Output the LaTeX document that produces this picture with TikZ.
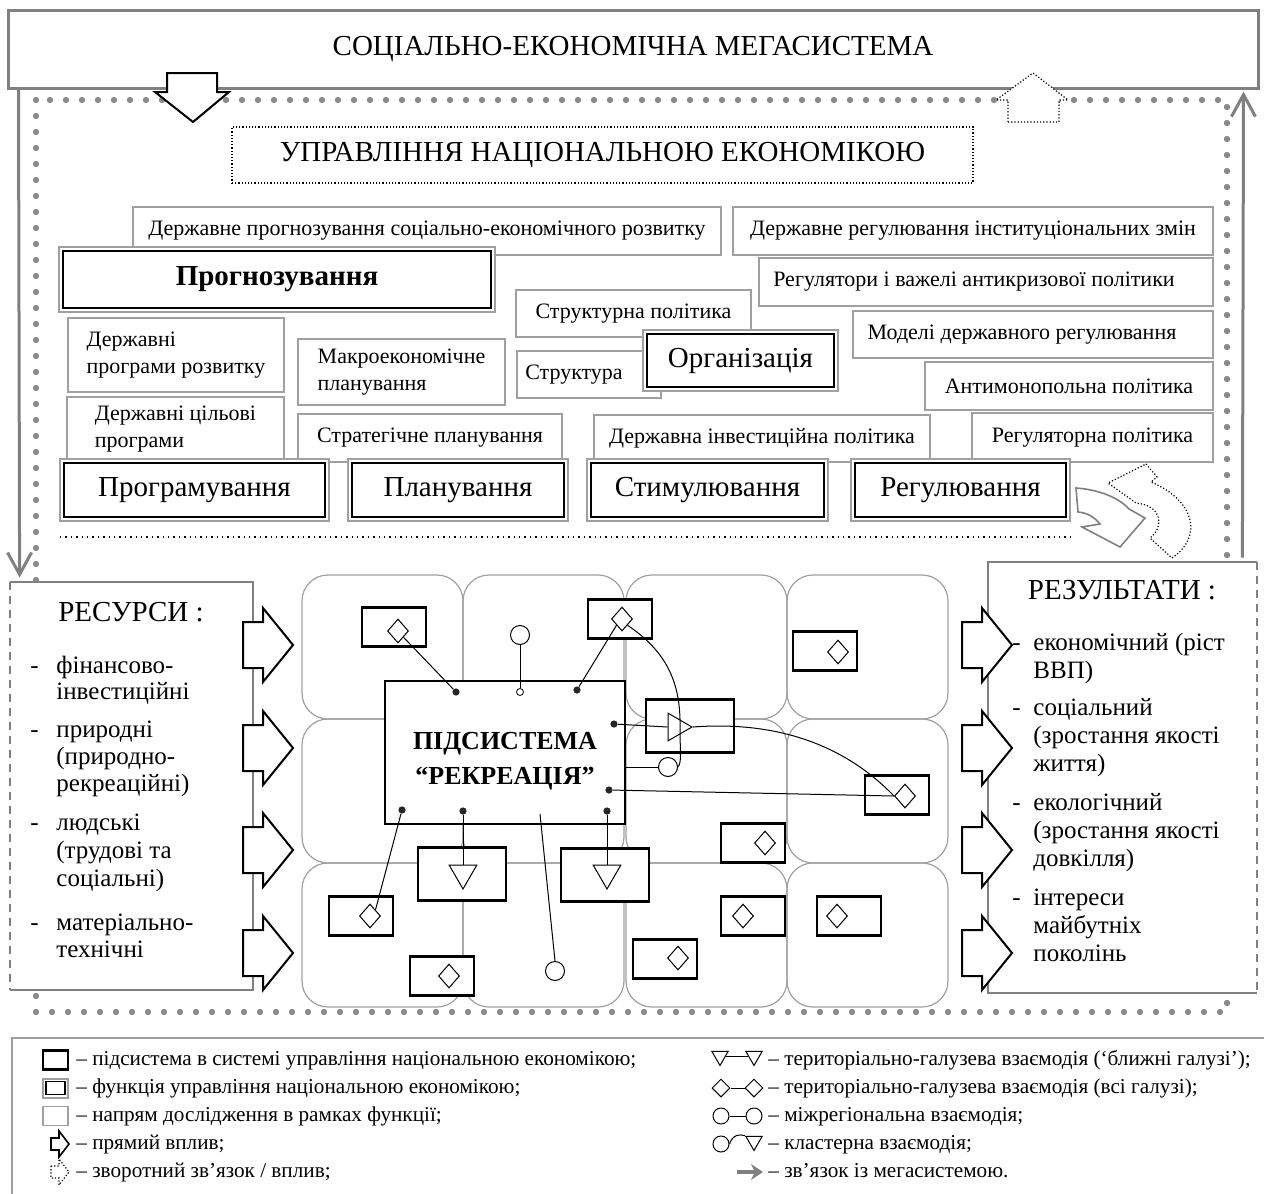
\documentclass[tikz,border=0pt]{standalone}
\usepackage{fontspec}
\setmainfont{Liberation Serif}
\usetikzlibrary{shapes.geometric,arrows.meta,calc}
\definecolor{lgray}{HTML}{A0A0A0}
\definecolor{mgray}{HTML}{8A8A8A}
\definecolor{dgray}{HTML}{808080}
\newcommand{\myftitle}{\fontsize{14.5}{17}\selectfont}
\newcommand{\myffun}{\fontsize{14.5}{17}\selectfont}
\newcommand{\myfdir}{\fontsize{11}{13.5}\selectfont}
\newcommand{\myfitem}{\fontsize{12.5}{14}\selectfont}
\newcommand{\myfleg}{\fontsize{10.6}{12}\selectfont}
\newcommand{\bx}[7]{%
  \pgfmathsetmacro{\bxcx}{(#2+#4)/2}%
  \pgfmathsetmacro{\bxcy}{(#3+#5)/2}%
  \pgfmathsetmacro{\bxw}{(#4-#2)/2}%
  \pgfmathsetmacro{\bxh}{(#5-#3)/2}%
  \node[#6, minimum width=\bxw pt, minimum height=\bxh pt] (#1) at (\bxcx,\bxcy) {#7};}
\newcommand{\rarr}[3]{%
  \draw[#3] (#1,#2-23) -- (#1+20,#2-23) -- (#1+20,#2-37) -- (#1+50,#2) -- (#1+20,#2+37) -- (#1+20,#2+23) -- (#1,#2+23) -- cycle;}
\begin{document}
\begin{tikzpicture}[x=0.5pt,y=-0.5pt,
 dir/.style={draw=lgray, line width=0.7pt, fill=white, inner sep=0pt, outer sep=0pt, font=\myfdir, align=left},
 func/.style={draw=lgray, line width=0.8pt, fill=white, inner sep=0pt, outer sep=0pt, font=\myffun},
 sub/.style={draw=black, line width=1.1pt, fill=white, inner sep=0pt, outer sep=0pt},
 sbox/.style={sub, minimum width=32pt, minimum height=19.5pt},
 tbox/.style={sub, minimum width=44pt, minimum height=26.5pt},
 dia/.style={diamond, draw, line width=0.5pt, minimum width=10.5pt, minimum height=12pt, inner sep=0pt},
 tri/.style={regular polygon, regular polygon sides=3, draw, line width=0.5pt, minimum size=16pt, inner sep=0pt},
 circ/.style={circle, draw, line width=0.5pt, minimum size=9.5pt, inner sep=0pt, fill=white},
 dotn/.style={circle, fill=black!85, minimum size=3.6pt, inner sep=0pt},
 odot/.style={circle, draw, line width=0.4pt, fill=white, minimum size=3.5pt, inner sep=0pt},
 conn/.style={line width=0.5pt},
 graydots/.style={draw=mgray, line width=3.2pt, line cap=round, dash pattern=on 0pt off 8pt},
 megalink/.style={draw=dgray, line width=1.5pt, -{Straight Barb[length=11pt,width=12pt]}},
 boxline/.style={draw=dgray, line width=1pt},
 blk/.style={draw=black, line width=1pt, fill=white},
 blkdot/.style={draw=black, line width=0.6pt, fill=white, densely dotted},
 cell/.style={draw=lgray, line width=0.6pt, rounded corners=13pt},
 ln/.style={anchor=west, inner sep=0pt, font=\myfitem, text height=8.5pt, text depth=2.6pt},
 lg/.style={anchor=west, inner sep=0pt, font=\myfleg, text height=7.2pt, text depth=2.2pt},
]
\useasboundingbox[fill=white] (0,0) rectangle (1264,1194);

% dotted gray frame
\draw[graydots] (36,100) rectangle (1227,1012);

% megasystem
\bx{mega}{8}{10}{1258}{88}{draw=dgray, line width=1.5pt, fill=white, inner sep=0pt, font=\myftitle}{СОЦІАЛЬНО-ЕКОНОМІЧНА МЕГАСИСТЕМА}

% direct influence down / feedback up
\draw[blk] (167,73) -- (217,73) -- (217,92) -- (229,92) -- (193,122) -- (155,92) -- (167,92) -- cycle;
\draw[blkdot] (1008,122) -- (1059,122) -- (1059,100) -- (1068,100) -- (1033,73) -- (996,100) -- (1008,100) -- cycle;

% management title
\bx{mgmt}{232}{127}{973}{183}{draw, densely dotted, line width=0.6pt, fill=white, inner sep=0pt, font=\myftitle}{УПРАВЛІННЯ НАЦІОНАЛЬНОЮ ЕКОНОМІКОЮ}

% research directions
\bx{A1}{133}{207}{721}{255}{dir}{Державне прогнозування соціально-економічного розвитку}
\bx{A2}{733}{207}{1213}{255}{dir}{Державне регулювання інституціональних змін}
\bx{A3}{759}{258}{1213}{306}{dir}{Регулятори і важелі антикризової політики\hspace*{12pt}}
\bx{A4}{516}{290}{751}{337}{dir}{Структурна політика}
\bx{A5}{853}{311}{1213}{358}{dir}{Моделі державного регулювання\hspace*{11pt}}
\bx{A6}{517}{351}{661}{398}{dir}{Структура\hspace*{15pt}}
\bx{A7}{68}{318}{284}{392}{dir}{Державні\\програми розвитку}
\bx{A8}{298}{339}{505}{405}{dir}{Макроекономічне\\планування}
\bx{A9}{925}{362}{1213}{410}{dir}{Антимонопольна політика}
\bx{A10}{67}{397}{284}{462}{dir}{Державні цільові\\програми}
\bx{A11}{298}{414}{562}{462}{dir}{Стратегічне планування}
\bx{A12}{594}{415}{930}{462}{dir}{Державна інвестиційна політика}
\bx{A13}{972}{413}{1213}{462}{dir}{Регуляторна політика}

% functions
\bx{PROG}{59}{247}{495}{312}{func, font=\bfseries\myffun}{Прогнозування}
\bx{ORG}{643}{330}{838}{391}{func}{Організація}
\bx{PRGM}{60}{459}{329}{521}{func}{Програмування}
\bx{PLAN}{348}{459}{568}{521}{func}{Планування}
\bx{STIM}{587}{459}{828}{521}{func}{Стимулювання}
\bx{REG}{851}{459}{1070}{521}{func}{Регулювання}
\foreach \n in {PROG,ORG,PRGM,PLAN,STIM,REG}
  \draw[line width=0.8pt] ([xshift=2pt,yshift=-2pt]\n.north west) rectangle ([xshift=-2pt,yshift=2pt]\n.south east);

\draw[dotted, line width=0.7pt] ([yshift=-8pt]PRGM.south west) -- ([xshift=2pt,yshift=-8pt]REG.south east);

% curved arrows near regulation
\draw[draw=dgray, line width=0.8pt, fill=white] (1076,488) .. controls (1102,490) and (1120,499) .. (1129,509) -- (1145,518) -- (1120,547) -- (1082,527) -- (1100,524) .. controls (1094,517) and (1088,513) .. (1078,512) -- cycle;
\draw[blkdot] (1146,464) -- (1157,477) -- (1151,482) .. controls (1194,500) and (1204,536) .. (1172,558) -- (1150,538) .. controls (1166,525) and (1160,505) .. (1136,503) -- (1108,483) -- cycle;

% resources
\bx{res}{10}{582}{253}{990}{fill=white, inner sep=0pt}{}
\draw[boxline] (res.south west) -- (res.south east) -- (res.north east) -- (res.north west);
\draw[boxline, dash pattern=on 4pt off 3pt] (res.north west) -- (res.south west);
\node[font=\myftitle, inner sep=0pt] (rest) at (131,612) {РЕСУРСИ :};
\foreach \yy/\lt [count=\i] in {668/фінансово-, 694/інвестиційні, 732/природні, 759/(природно-, 786/рекреаційні), 825/людські, 853/(трудові та, 881/соціальні), 925/матеріально-, 952/технічні}
  \node[ln] (rl\i) at (56,\yy) {\lt};
\foreach \yy [count=\i] in {668,732,825,925}
  \node[ln] (rd\i) at (30,\yy) {-};

% results
\bx{res2}{988}{562}{1257}{993}{fill=white, inner sep=0pt}{}
\draw[boxline] (res2.north east) -- (res2.north west) -- (res2.south west) -- (res2.south east);
\draw[boxline, dash pattern=on 4pt off 3pt] (res2.north east) -- (res2.south east);
\node[font=\myftitle, inner sep=0pt] (res2t) at (1122,590) {РЕЗУЛЬТАТИ :};
\foreach \yy/\lt [count=\i] in {645/економічний (ріст, 673/ВВП), 710/соціальний, 738/(зростання якості, 766/життя), 805/екологічний, 833/(зростання якості, 861/довкілля), 900/інтереси, 928/майбутніх, 956/поколінь}
  \node[ln] (ql\i) at (1033,\yy) {\lt};
\foreach \yy [count=\i] in {645,710,805,900}
  \node[ln] (qd\i) at (1012,\yy) {-};

% mega links (gray arrows)
\draw[megalink] ([xshift=6pt]mega.south west) -- ([xshift=5pt,yshift=2pt]res.north west);
\draw[megalink] ([xshift=-7.5pt,yshift=2pt]res2.north east) -- ([xshift=-8pt,yshift=-1pt]mega.south east);

% block arrows
\foreach \yy in {645,748,850,953} {\rarr{243}{\yy}{blk} \rarr{962}{\yy}{blk}}

% grid of regions
\foreach \cx in {302,463,626,787} \foreach \cy in {575,719,863}
  \draw[cell] (\cx,\cy) rectangle +(161,144);

% central subsystem
\bx{rec}{385}{681}{625}{824}{sub, line width=1.2pt, font=\bfseries\fontsize{13}{17.5}\selectfont, align=center}{\rule{0pt}{17pt}ПІДСИСТЕМА\\“РЕКРЕАЦІЯ”}

% subsystem boxes
\node[sbox] (S1) at (394,627) {};
\node[sbox] (S2) at (620,619) {};
\node[sbox] (S3) at (825,651) {};
\node[tbox] (S4) at (690,726) {};
\node[sbox] (S5) at (897,795) {};
\node[sbox] (S6) at (753,843) {};
\node[tbox] (S7) at (462,874) {};
\node[tbox] (S8) at (605,875) {};
\node[sbox] (S9) at (361,916) {};
\node[sbox] (S10) at (753,916) {};
\node[sbox] (S11) at (849,916) {};
\node[sbox] (S12) at (665,959) {};
\node[sbox] (S13) at (442,976) {};

% symbols
\node[dia] (D1) at (398,631) {};
\node[dia] (D2) at (622,619) {};
\node[dia] (D3) at (838,652) {};
\node[dia] (D5) at (905,796) {};
\node[dia] (D6) at (765,843) {};
\node[dia] (D9) at (370,916) {};
\node[dia] (D10) at (743,916) {};
\node[dia] (D11) at (837,916) {};
\node[dia] (D12) at (678,958) {};
\node[dia] (D13) at (449,976) {};
\node[tri, shape border rotate=-90] (T4) at (676,727) {};
\node[tri, shape border rotate=180] (T7) at (463,873) {};
\node[tri, shape border rotate=180] (T8) at (607,873) {};
\node[circ] (C1) at (520,635) {};
\node[circ] (C2) at (668,767) {};
\node[circ] (C3) at (555,971) {};
\node[odot] (O1) at (520,692) {};
\node[dotn] (d1) at (456,692) {};
\node[dotn] (d2) at (577,690) {};
\node[dotn] (d3) at (614,724) {};
\node[dotn] (d4) at (609,790) {};
\node[dotn] (d5) at (402,810) {};
\node[dotn] (d6) at (463,811) {};
\node[dotn] (d7) at (607,811) {};
\coordinate (cl) at (540,814);

% connections
\draw[conn] (D1.south east) -- (d1);
\draw[conn] (D2.south west) -- (d2);
\draw[conn] (C1) -- (O1);
\draw[conn] (d3) -- (T4.west);
\draw[conn] (T4.east) .. controls (760,722) and (835,735) .. (D5.west);
\draw[conn] (d4) -- (D5.west);
\draw[conn] (C2.west) -- (rec.east |- C2.west);
\draw[conn] (D2.south east) .. controls (672,655) and (681,690) .. (680,730) .. controls (680,750) and (682,762) .. (C2.east);
\draw[conn] (d5) -- (D9.north east);
\draw[conn] (d6) -- (T7.north);
\draw[conn] (d7) -- (T8.north);
\draw[conn] (cl) -- (C3.north);

% legend
\draw[draw=lgray, line width=0.8pt] (12,1194) -- (12,1038) -- (1264,1038);
\node[sub, minimum width=12.5pt, minimum height=9.5pt] (L1) at (55.5,1060) {};
\node[func, line width=1pt, minimum width=12.5pt, minimum height=9.5pt] (L2) at (55.5,1088) {};
\draw[line width=0.7pt] ([xshift=1.5pt,yshift=-1.5pt]L2.north west) rectangle ([xshift=-1.5pt,yshift=1.5pt]L2.south east);
\node[dir, minimum width=12.5pt, minimum height=9.5pt] (L3) at (55.5,1116) {};
\draw[blk, line width=0.8pt] (51,1138) -- (59,1138) -- (59,1131) -- (69,1144) -- (59,1157) -- (59,1150) -- (51,1150) -- cycle;
\draw[blkdot] (51,1166) -- (59,1166) -- (59,1159) -- (69,1172) -- (59,1185) -- (59,1178) -- (51,1178) -- cycle;
\node[lg] (lt1) at (76,1060) {– підсистема в системі управління національною економікою;};
\node[lg] (lt2) at (76,1088) {– функція управління національною економікою;};
\node[lg] (lt3) at (76,1116) {– напрям дослідження в рамках функції;};
\node[lg] (lt4) at (76,1144) {– прямий вплив;};
\node[lg] (lt5) at (76,1172) {– зворотний зв’язок / вплив;};

\node[tri, shape border rotate=180, minimum size=9.5pt] (LT1) at (720,1056) {};
\node[tri, shape border rotate=180, minimum size=9.5pt] (LT2) at (754,1056) {};
\draw[conn] (LT1.east) -- (LT2.west);
\node[dia, minimum width=9pt, minimum height=9pt] (LD1) at (721,1088) {};
\node[dia, minimum width=9pt, minimum height=9pt] (LD2) at (754,1088) {};
\draw[conn] (LD1.east) -- (LD2.west);
\node[circ, minimum size=8pt] (LC1) at (721,1116) {};
\node[circ, minimum size=8pt] (LC2) at (754,1116) {};
\draw[conn] (LC1.east) -- (LC2.west);
\node[circ, minimum size=8pt] (LC3) at (721,1144) {};
\node[tri, shape border rotate=180, minimum size=9.5pt] (LT3) at (754,1141) {};
\draw[conn] (LC3.east) .. controls (733,1134) and (740,1134) .. (LT3.corner 3);
\coordinate (LA1) at (737,1172);
\coordinate (LA2) at (763,1172);
\draw[draw=dgray, line width=1.6pt, -{Stealth[length=6pt, width=8pt, inset=2pt]}] (LA1) -- (LA2);
\node[lg] (rt1) at (768,1060) {– територіально-галузева взаємодія (‘ближні галузі’);};
\node[lg] (rt2) at (768,1088) {– територіально-галузева взаємодія (всі галузі);};
\node[lg] (rt3) at (768,1116) {– міжрегіональна взаємодія;};
\node[lg] (rt4) at (768,1144) {– кластерна взаємодія;};
\node[lg] (rt5) at (768,1172) {– зв’язок із мегасистемою.};
\end{tikzpicture}
\end{document}
